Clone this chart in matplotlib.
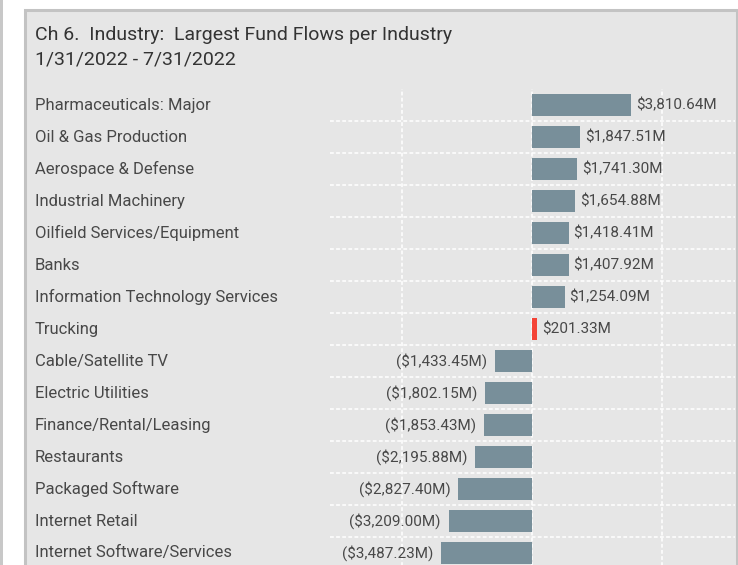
import matplotlib
matplotlib.use('Agg')
import matplotlib.pyplot as plt
from matplotlib.patches import Rectangle
from matplotlib.transforms import blended_transform_factory

industries = ['Pharmaceuticals: Major', 'Oil & Gas Production', 'Aerospace & Defense',
              'Industrial Machinery', 'Oilfield Services/Equipment', 'Banks',
              'Information Technology Services', 'Trucking', 'Cable/Satellite TV',
              'Electric Utilities', 'Finance/Rental/Leasing', 'Restaurants',
              'Packaged Software', 'Internet Retail', 'Internet Software/Services']
flows = [3810.64, 1847.51, 1741.30, 1654.88, 1418.41, 1407.92, 1254.09, 201.33,
         -1433.45, -1802.15, -1853.43, -2195.88, -2827.40, -3209.00, -3487.23]
highlight = 'Trucking'

W, H = 738, 565
fig = plt.figure(figsize=(W / 100, H / 100), dpi=100)
fig.patch.set_facecolor('white')
plt.rcParams['font.family'] = ['Roboto', 'DejaVu Sans']

def px(x, y):
    # pixel coords (from top-left) -> figure fraction
    return x / W, 1 - y / H

# panel and left strip (behind the axes)
fig.patches.append(Rectangle(px(24.5, 9.5 + 600), (737 - 24.5) / W, 600 / H, transform=fig.transFigure,
                             facecolor='#e6e6e6', edgecolor='#c3c3c3', linewidth=2.2, zorder=-5))
fig.patches.append(Rectangle((0, 0), 2.5 / W, 1, transform=fig.transFigure,
                             facecolor='#c8c8c8', edgecolor='none', zorder=-5))

txt = '#484848'
fig.text(*px(35, 35), 'Ch 6.  Industry:  Largest Fund Flows per Industry', fontsize=14,
         color='#333333', va='center', ha='left')
fig.text(*px(35, 60), '1/31/2022 - 7/31/2022', fontsize=14, color='#333333', va='center', ha='left')

top, row_h = 89, 32
n = len(industries)
ax = fig.add_axes([330 / W, 1 - (top + n * row_h) / H, (735 - 330) / W, n * row_h / H])
ax.set_facecolor('none')
for s in ax.spines.values():
    s.set_visible(False)
ax.set_xticks([])
ax.set_yticks([])

scale = 130 / 5000.0
ax.set_xlim((330 - 532) / scale, (735 - 532) / scale)
ax.set_ylim(n - 0.5, -0.5)

for xv in (-5000, 0, 5000):
    ax.axvline(xv, color='white', lw=1.1, ls=(0, (2.5, 1.5)), zorder=1)
for i in range(n - 1):
    ax.axhline(i + 0.5, color='white', lw=1.1, ls=(0, (2.5, 1.5)), zorder=1)

colors = ['#f44336' if c == highlight else '#788f9a' for c in industries]
ax.barh(range(n), flows, height=0.66, color=colors, zorder=2)

tr = blended_transform_factory(fig.transFigure, ax.transData)
for i, (name, v) in enumerate(zip(industries, flows)):
    ax.text(35 / W, i, name, transform=tr, fontsize=12, color=txt, va='center', ha='left',
            clip_on=False)
    if v >= 0:
        ax.text(v + 180, i, f'${v:,.2f}M', fontsize=11, color=txt, va='center', ha='left', zorder=3)
    else:
        ax.text(v - 300, i, f'(${-v:,.2f}M)', fontsize=11, color=txt, va='center', ha='right', zorder=3)

fig.savefig('out.png', dpi=100)
